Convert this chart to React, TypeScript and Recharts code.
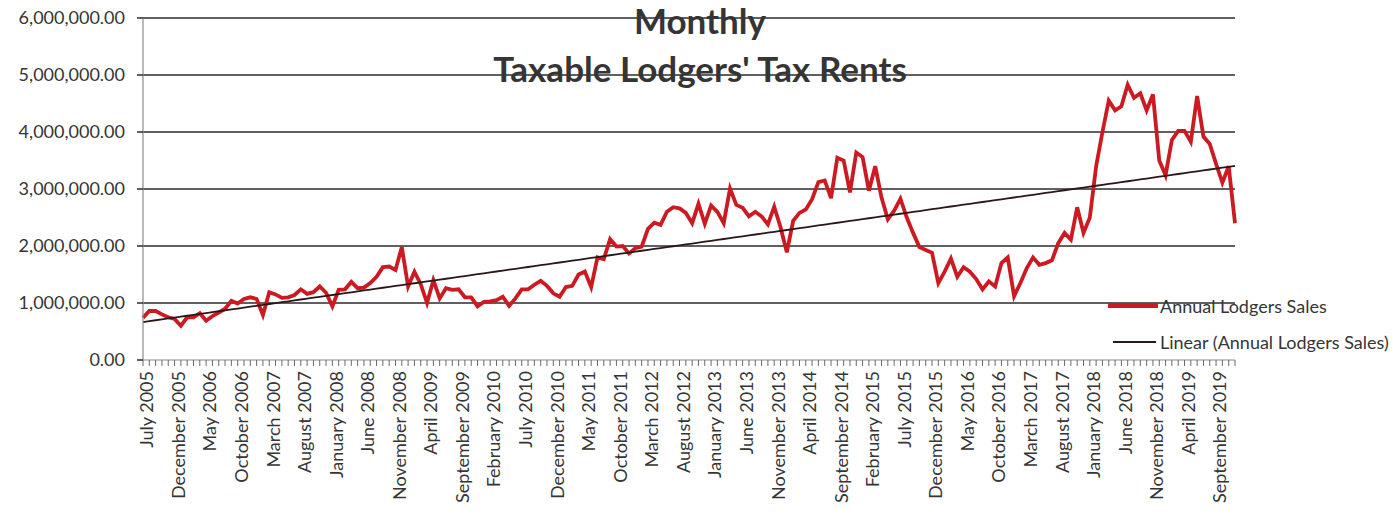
import React from 'react';
import { LineChart, Line, XAxis, YAxis, ReferenceLine } from 'recharts';

// Monthly values in millions (July 2005 .. December 2019)
const sales2005 = [0.74, 0.86, 0.86, 0.8, 0.75, 0.72];
const sales2006 = [0.6, 0.75, 0.75, 0.82, 0.69, 0.77, 0.83, 0.9, 1.04, 0.99, 1.07, 1.1];
const sales2007 = [1.07, 0.79, 1.19, 1.15, 1.09, 1.1, 1.14, 1.24, 1.16, 1.19, 1.29, 1.18];
const sales2008 = [0.94, 1.23, 1.24, 1.37, 1.26, 1.27, 1.35, 1.46, 1.63, 1.64, 1.58, 1.98];
const sales2009 = [1.29, 1.55, 1.33, 1.0, 1.4, 1.08, 1.26, 1.23, 1.24, 1.1, 1.1, 0.94];
const sales2010 = [1.02, 1.03, 1.05, 1.11, 0.95, 1.08, 1.24, 1.24, 1.32, 1.39, 1.3, 1.17];
const sales2011 = [1.11, 1.28, 1.3, 1.5, 1.55, 1.28, 1.8, 1.77, 2.12, 1.99, 2.0, 1.87];
const sales2012 = [1.96, 1.99, 2.3, 2.41, 2.37, 2.6, 2.68, 2.66, 2.58, 2.4, 2.74, 2.39];
const sales2013 = [2.71, 2.6, 2.4, 3.01, 2.72, 2.67, 2.52, 2.6, 2.52, 2.38, 2.69, 2.33];
const sales2014 = [1.89, 2.44, 2.58, 2.64, 2.82, 3.12, 3.15, 2.84, 3.55, 3.5, 2.94, 3.64];
const sales2015 = [3.56, 2.97, 3.4, 2.85, 2.47, 2.62, 2.83, 2.5, 2.23, 1.98, 1.93, 1.88];
const sales2016 = [1.35, 1.55, 1.78, 1.46, 1.63, 1.55, 1.42, 1.24, 1.38, 1.29, 1.7, 1.8];
const sales2017 = [1.12, 1.35, 1.61, 1.8, 1.67, 1.7, 1.75, 2.05, 2.23, 2.11, 2.68, 2.23];
const sales2018 = [2.5, 3.4, 4.0, 4.55, 4.38, 4.45, 4.83, 4.6, 4.68, 4.38, 4.66, 3.5];
const sales2019 = [3.24, 3.86, 4.02, 4.02, 3.83, 4.63, 3.92, 3.79, 3.44, 3.11, 3.4, 2.4];

const MONTH_NAMES = ['January', 'February', 'March', 'April', 'May', 'June', 'July', 'August', 'September', 'October', 'November', 'December'];

const TICK_LABELS = [
  'July 2005', 'December 2005', 'May 2006', 'October 2006', 'March 2007', 'August 2007',
  'January 2008', 'June 2008', 'November 2008', 'April 2009', 'September 2009', 'February 2010',
  'July 2010', 'December 2010', 'May 2011', 'October 2011', 'March 2012', 'August 2012',
  'January 2013', 'June 2013', 'November 2013', 'April 2014', 'September 2014', 'February 2015',
  'July 2015', 'December 2015', 'May 2016', 'October 2016', 'March 2017', 'August 2017',
  'January 2018', 'June 2018', 'November 2018', 'April 2019', 'September 2019',
];

const Y_TICKS = [0, 1000000, 2000000, 3000000, 4000000, 5000000, 6000000];

const ALL_SALES = [
  ...sales2005, ...sales2006, ...sales2007, ...sales2008, ...sales2009, ...sales2010, ...sales2011,
  ...sales2012, ...sales2013, ...sales2014, ...sales2015, ...sales2016, ...sales2017, ...sales2018, ...sales2019,
];

const categories = ALL_SALES.map((_, i) => {
  const m = (6 + i) % 12;
  const y = 2005 + Math.floor((6 + i) / 12);
  return `${MONTH_NAMES[m]} ${y}`;
});

// least-squares linear trend (Excel "Linear" trendline)
const n = ALL_SALES.length;
const mx = (n - 1) / 2;
const my = ALL_SALES.reduce((a, b) => a + b, 0) / n;
let sxy = 0;
let sxx = 0;
ALL_SALES.forEach((v, i) => {
  sxy += (i - mx) * (v - my);
  sxx += (i - mx) * (i - mx);
});
const slope = sxy / sxx;
const intercept = my - slope * mx;

const data = categories.map((c, i) => ({
  month: c,
  sales: Math.round(ALL_SALES[i] * 1000000),
  trend: (intercept + slope * i) * 1000000,
}));

const fmt = (v: number) => Math.round(v).toString().replace(/\B(?=(\d{3})+(?!\d))/g, ',') + '.00';

const FONT = 'Lato, "Open Sans", sans-serif';
const TEXT = '#353535';

const MonthTick = (props: any) => {
  const { x, y, payload } = props;
  if (!TICK_LABELS.includes(payload.value)) return <g />;
  const tx = x + 4;
  return (
    <text
      x={tx}
      y={y}
      transform={`rotate(-90, ${tx}, ${y})`}
      textAnchor="end"
      dy="0.35em"
      fontSize={18}
      fill={TEXT}
      fontFamily={FONT}
    >
      {payload.value}
    </text>
  );
};

export default function App() {
  return (
    <div style={{ position: 'absolute', left: 0, top: 0, width: 1393, height: 524, background: '#fff', fontFamily: FONT }}>
      <LineChart width={1393} height={524} data={data} margin={{ top: 18, right: 158, bottom: 4, left: 0 }}>
        <XAxis
          dataKey="month"
          interval={0}
          height={160}
          tickSize={6}
          tickMargin={5}
          axisLine={{ stroke: '#8c8c8c', strokeWidth: 1.2 }}
          tickLine={{ stroke: '#6a6a6a' }}
          tick={<MonthTick />}
        />
        <YAxis
          width={143}
          domain={[0, 6000000]}
          ticks={Y_TICKS}
          interval={0}
          tickFormatter={fmt}
          tickSize={6}
          tickMargin={12}
          axisLine={{ stroke: '#8c8c8c', strokeWidth: 1.2 }}
          tickLine={{ stroke: '#2b2b2b', strokeWidth: 1.5 }}
          tick={{ fill: TEXT, fontSize: 18, fontFamily: FONT }}
        />
        {Y_TICKS.slice(1).map((t) => (
          <ReferenceLine key={t} y={t} stroke="#2b2b2b" strokeWidth={1.5} ifOverflow="extendDomain" />
        ))}
        <Line dataKey="sales" type="linear" stroke="#cc1a22" strokeWidth={3.8} dot={false} isAnimationActive={false} />
        <Line dataKey="trend" type="linear" stroke="#2a1818" strokeWidth={1.8} dot={false} isAnimationActive={false} />
      </LineChart>

      <div style={{ position: 'absolute', left: 0, width: 1400, top: 2, lineHeight: '36px', textAlign: 'center', fontSize: 35, fontWeight: 700, color: TEXT }}>
        Monthly
      </div>
      <div style={{ position: 'absolute', left: 0, width: 1400, top: 50, lineHeight: '36px', textAlign: 'center', fontSize: 35, fontWeight: 700, color: TEXT }}>
        Taxable Lodgers' Tax Rents
      </div>

      <div style={{ position: 'absolute', left: 1108, top: 303, width: 50, height: 5, background: '#cc1a22' }} />
      <div style={{ position: 'absolute', left: 1160, top: 295, lineHeight: '22px', fontSize: 18, color: TEXT, whiteSpace: 'nowrap' }}>
        Annual Lodgers Sales
      </div>
      <div style={{ position: 'absolute', left: 1113, top: 341, width: 43, height: 2, background: '#2a1818' }} />
      <div style={{ position: 'absolute', left: 1160, top: 331, lineHeight: '22px', fontSize: 18, color: TEXT, whiteSpace: 'nowrap' }}>
        Linear (Annual Lodgers Sales)
      </div>
    </div>
  );
}
